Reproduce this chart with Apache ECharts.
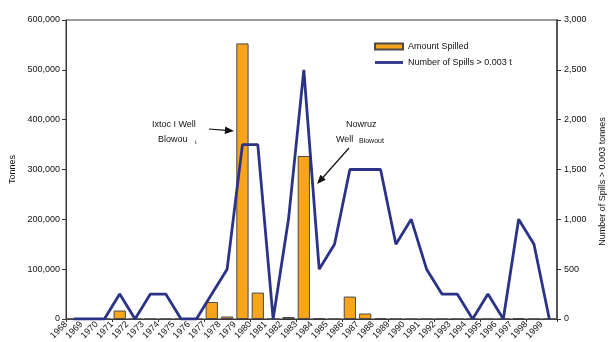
<!DOCTYPE html>
<html>
<head>
<meta charset="utf-8">
<script src="https://cdn.jsdelivr.net/npm/echarts@6/dist/echarts.min.js"></script>
<style>
  html, body { margin: 0; padding: 0; background: #ffffff; }
  #chart { width: 611px; height: 342px; }
</style>
</head>
<body>
<div id="chart"></div>
<script>
// Oil spilled per year (tonnes) and number of spills above 0.003 t, 1968-1999
const years = ['1968','1969','1970','1971','1972','1973','1974','1975','1976','1977',
  '1978','1979','1980','1981','1982','1983','1984','1985','1986','1987','1988','1989',
  '1990','1991','1992','1993','1994','1995','1996','1997','1998','1999'];

const amountSpilled = [0, 0, 0, 17000, 0, 0, 0, 0, 0, 34000,
  5000, 553000, 53000, 0, 4000, 327000, 2000, 0, 45000, 11000, 2000, 0,
  0, 0, 0, 0, 0, 0, 0, 2000, 0, 0];

const numberOfSpills = [0, 0, 0, 250, 0, 250, 250, 0, 0, 250,
  500, 1750, 1750, 0, 1000, 2500, 500, 750, 1500, 1500, 1500, 750,
  1000, 500, 250, 250, 0, 250, 0, 1000, 750, 0];

const tonnesTicks = { min: 0, max: 600000, interval: 100000 };
const spillTicks = { min: 0, max: 3000, interval: 500 };

// Year labels sit on the category boundaries, so they get their own
// label-only axis with one extra slot and no boundary gap.
const yearLabels = years.concat(['']);

const FONT = "'Liberation Sans', Arial, Helvetica, sans-serif";
const AXIS = '#3d3535';
const ORANGE = '#F8A51B';
const NAVY = '#2B3387';

const chart = echarts.init(document.getElementById('chart'), null, { renderer: 'canvas' });

const fmt = v => v.toLocaleString('en-US');

chart.setOption({
  animation: false,
  textStyle: { fontFamily: FONT },
  grid: {
    left: 66, right: 54, top: 20, bottom: 23,
    containLabel: false,
    outerBoundsMode: 'none',
    show: true, borderColor: AXIS, borderWidth: 1, backgroundColor: 'transparent'
  },
  legend: {
    orient: 'vertical',
    left: 369, top: 37,
    itemWidth: 28, itemHeight: 6, itemGap: 7,
    textStyle: { fontFamily: FONT, fontSize: 9, color: '#111' },
    data: [
      { name: 'Amount Spilled', icon: 'rect' },
      { name: 'Number of Spills > 0.003 t', icon: 'path://M0,0H28V2.8H0Z' }
    ]
  },
  xAxis: [
    {
      type: 'category',
      data: years,
      boundaryGap: true,
      axisLine: { show: true, lineStyle: { color: AXIS, width: 1 } },
      axisTick: { show: true, length: 3, lineStyle: { color: AXIS } },
      axisLabel: { show: false }
    },
    {
      type: 'category',
      data: yearLabels,
      boundaryGap: false,
      position: 'bottom',
      axisLine: { show: false },
      axisTick: { show: false },
      axisLabel: {
        show: true, interval: 0, rotate: 45, margin: 4,
        fontFamily: FONT, fontSize: 9, color: '#111'
      }
    }
  ],
  yAxis: [
    {
      type: 'value',
      min: tonnesTicks.min, max: tonnesTicks.max, interval: tonnesTicks.interval,
      name: 'Tonnes',
      nameLocation: 'middle',
      nameGap: 37,
      nameTextStyle: { fontFamily: FONT, fontSize: 9, color: '#111' },
      axisLine: { show: true, lineStyle: { color: AXIS, width: 1 } },
      axisTick: { show: true, length: 4, lineStyle: { color: AXIS } },
      splitLine: { show: false },
      axisLabel: {
        margin: 6, fontFamily: FONT, fontSize: 9, color: '#111',
        formatter: v => fmt(v)
      }
    },
    {
      type: 'value',
      position: 'right',
      min: spillTicks.min, max: spillTicks.max, interval: spillTicks.interval,
      name: 'Number of Spills > 0.003 tonnes',
      nameLocation: 'middle',
      nameGap: 41,
      nameRotate: 90,
      nameTextStyle: { fontFamily: FONT, fontSize: 9, color: '#111', padding: [0, 24, 0, 0] },
      axisLine: { show: true, lineStyle: { color: '#555', width: 2 } },
      axisTick: { show: true, length: 4, lineStyle: { color: AXIS } },
      splitLine: { show: false },
      axisLabel: {
        margin: 7, fontFamily: FONT, fontSize: 9, color: '#111',
        formatter: v => fmt(v)
      }
    }
  ],
  series: [
    {
      name: 'Amount Spilled',
      type: 'bar',
      xAxisIndex: 0,
      yAxisIndex: 0,
      data: amountSpilled,
      barCategoryGap: '20%',
      itemStyle: { color: ORANGE, borderColor: '#4a4a4a', borderWidth: 1 },
      z: 2
    },
    {
      name: 'Number of Spills > 0.003 t',
      type: 'line',
      xAxisIndex: 0,
      yAxisIndex: 1,
      data: numberOfSpills,
      symbol: 'none',
      lineStyle: { color: NAVY, width: 2.8 },
      itemStyle: { color: NAVY },
      z: 3
    }
  ],
  graphic: [
    // Ixtoc I annotation
    { type: 'text', left: 152, top: 120, style: { text: 'Ixtoc I Well', font: '9px ' + FONT, fill: '#111' } },
    { type: 'text', left: 158, top: 135, style: { text: 'Blowou', font: '9px ' + FONT, fill: '#111' } },
    { type: 'text', left: 195, top: 139, style: { text: 't', font: '6px ' + FONT, fill: '#111' } },
    { type: 'line', shape: { x1: 209, y1: 129, x2: 226, y2: 130.4 }, style: { stroke: '#111', lineWidth: 1.2 } },
    { type: 'polygon', shape: { points: [[234, 131], [224.7, 134], [225.3, 126.6]] }, style: { fill: '#111' } },
    // Nowruz annotation
    { type: 'text', left: 346, top: 120, style: { text: 'Nowruz', font: '9px ' + FONT, fill: '#111' } },
    { type: 'text', left: 336, top: 135, style: { text: 'Well', font: '9px ' + FONT, fill: '#111' } },
    { type: 'text', left: 359, top: 138, style: { text: 'Blowout', font: '7px ' + FONT, fill: '#111' } },
    { type: 'line', shape: { x1: 349, y1: 148, x2: 322, y2: 178.5 }, style: { stroke: '#111', lineWidth: 1.2 } },
    { type: 'polygon', shape: { points: [[317, 184], [325.8, 179.8], [320.4, 174.8]] }, style: { fill: '#111' } }
  ]
});
</script>
</body>
</html>
